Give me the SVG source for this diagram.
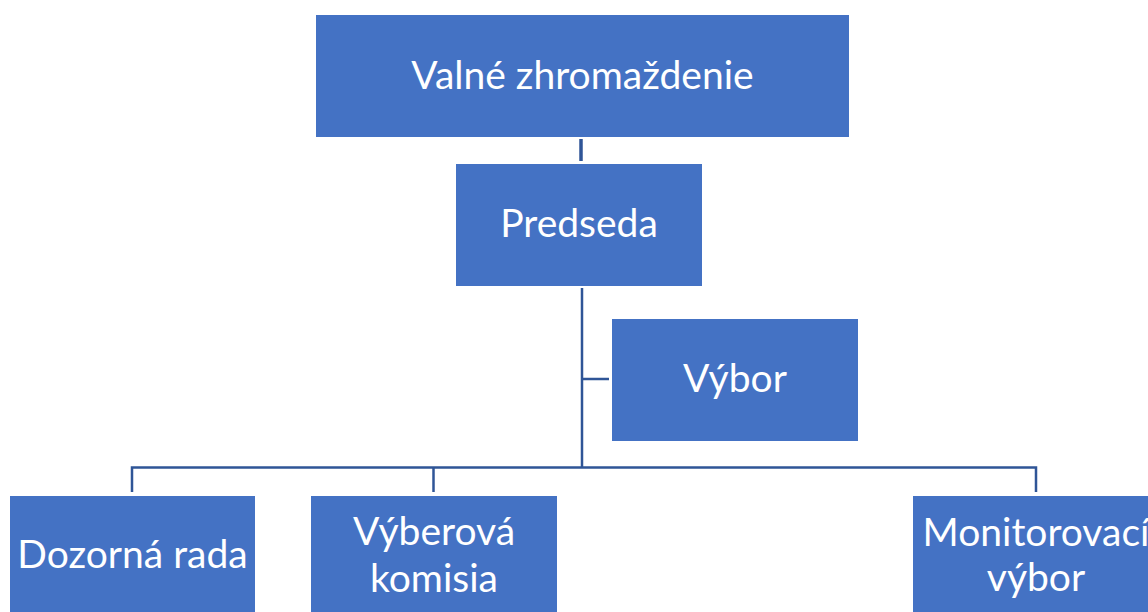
<svg xmlns="http://www.w3.org/2000/svg" width="1148" height="612" viewBox="0 0 1148 612">
<style>
.box{fill:#4472C4;}
.t{fill:#FFFFFF;font-family:Lato,"Liberation Sans",sans-serif;font-size:39px;text-anchor:middle;}
.c{fill:none;stroke:#2F5597;stroke-width:2.5;}
</style>
<rect width="1148" height="612" fill="#FFFFFF"/>
<g id="connectors">
<line class="c" x1="581" y1="139" x2="581" y2="161" style="stroke-width:3.5"/>
<polyline class="c" points="582,288 582,467.5"/>
<polyline class="c" points="582,379 609,379"/>
<polyline class="c" points="132,492 132,467.5 1036,467.5 1036,492"/>
<line class="c" x1="433.5" y1="467.5" x2="433.5" y2="492"/>
</g>
<g id="valne">
<rect class="box" x="316" y="15" width="533" height="122"/>
<text class="t" x="582.5" y="89">Valné zhromaždenie</text>
</g>
<g id="predseda">
<rect class="box" x="456" y="164" width="246" height="122"/>
<text class="t" x="579" y="237">Predseda</text>
</g>
<g id="vybor">
<rect class="box" x="612" y="319" width="246" height="122"/>
<text class="t" x="735" y="392">Výbor</text>
</g>
<g id="dozorna">
<rect class="box" x="10" y="496" width="245" height="130"/>
<text class="t" x="132.5" y="568">Dozorná rada</text>
</g>
<g id="vyberova">
<rect class="box" x="311" y="496" width="246" height="130"/>
<text class="t" x="434" y="545">Výberová</text>
<text class="t" x="434" y="592">komisia</text>
</g>
<g id="monitorovaci">
<rect class="box" x="913" y="496" width="246" height="130"/>
<text class="t" x="1036" y="546">Monitorovací</text>
<text class="t" x="1036" y="591">výbor</text>
</g>
</svg>
